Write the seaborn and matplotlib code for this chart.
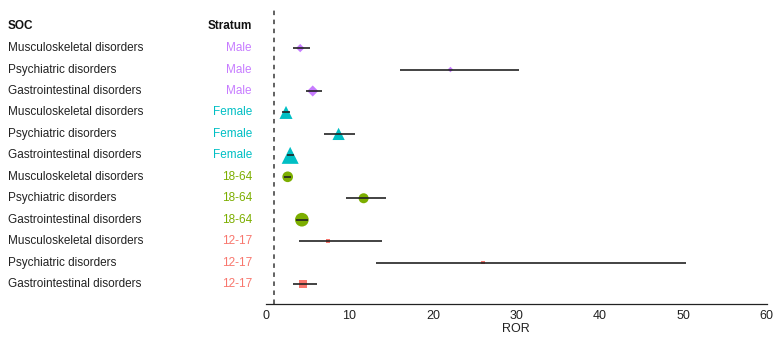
import matplotlib
matplotlib.use("Agg")
import matplotlib.pyplot as plt
import matplotlib.transforms as mtransforms
import seaborn as sns
import pandas as pd

# rows top to bottom
soc = ["Musculoskeletal disorders", "Psychiatric disorders", "Gastrointestinal disorders"] * 4
stratum = ["Male"] * 3 + ["Female"] * 3 + ["18-64"] * 3 + ["12-17"] * 3
ror = [4.1, 22.1, 5.6, 2.4, 8.7, 2.9, 2.6, 11.7, 4.3, 7.4, 26.0, 4.4]
ci_low = [3.2, 16.1, 4.8, 1.9, 7.0, 2.5, 2.2, 9.6, 3.6, 4.0, 13.2, 3.2]
ci_high = [5.3, 30.3, 6.7, 2.9, 10.7, 3.4, 3.0, 14.4, 5.0, 13.9, 50.3, 6.1]
weight = [18, 8, 32, 88, 78, 150, 59, 52, 97, 10, 5, 30]

strata = ["Male", "Female", "18-64", "12-17"]
colors = {"Male": "#C77CFF", "Female": "#00BFC4", "18-64": "#7CAE00", "12-17": "#F8766D"}
markers = {"Male": "D", "Female": "^", "18-64": "o", "12-17": "s"}

df = pd.DataFrame({"soc": soc, "stratum": stratum, "ror": ror,
                   "lo": ci_low, "hi": ci_high, "weight": weight})
df["row"] = range(len(df))

sns.set_style("white")
plt.rcParams["font.family"] = ["Liberation Sans", "DejaVu Sans"]

fig = plt.figure(figsize=(7.8, 3.39), dpi=100)
ax = fig.add_axes([0.341, 0.1032, 0.642, 0.867])

ax.axvline(1, color="#555555", ls=(0, (2.5, 2.5)), lw=1.3, zorder=1)

sns.scatterplot(data=df, x="ror", y="row", hue="stratum", style="stratum",
                size="weight", sizes=(5, 150), size_norm=(5, 150),
                hue_order=strata, style_order=strata, palette=colors,
                markers=markers, linewidth=0, legend=False, ax=ax, zorder=2)
ax.hlines(df["row"], df["lo"], df["hi"], color="#222222", lw=1.2, zorder=3)

ax.set_xlim(0, 60)
ax.set_ylim(11.93, -1.77)
ax.set_yticks([])
ax.set_ylabel("")
ax.set_xticks(range(0, 61, 10))
ax.set_xlabel("ROR", fontsize=9, labelpad=1, color="#222222")
ax.tick_params(axis="x", labelsize=9, length=3, width=0.8, colors="#222222", pad=1)
for s in ["top", "right", "left"]:
    ax.spines[s].set_visible(False)
ax.spines["bottom"].set_color("#222222")
ax.spines["bottom"].set_linewidth(0.9)

tr = mtransforms.blended_transform_factory(fig.transFigure, ax.transData)
ax.text(0.0103, -1.05, "SOC", transform=tr, fontsize=8.5, fontweight="bold",
        ha="left", va="center", color="#111111")
ax.text(0.323, -1.05, "Stratum", transform=tr, fontsize=8.5, fontweight="bold",
        ha="right", va="center", color="#111111")
for i, (name, grp) in enumerate(zip(soc, stratum)):
    ax.text(0.0103, i, name, transform=tr, fontsize=8.5, ha="left", va="center", color="#222222")
    ax.text(0.323, i, grp, transform=tr, fontsize=8.5, ha="right", va="center", color=colors[grp])

fig.savefig("out.png", dpi=100)
